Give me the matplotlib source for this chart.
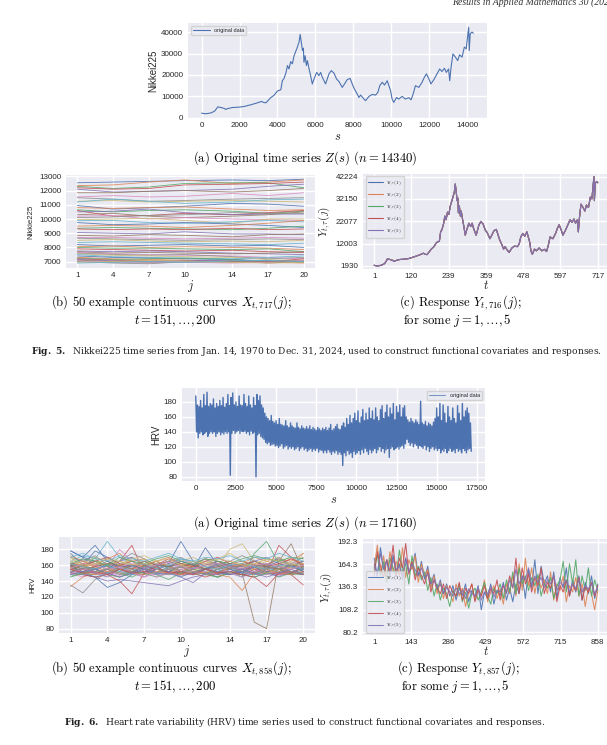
import numpy as np
import matplotlib
matplotlib.use('Agg')
import matplotlib.pyplot as plt
import seaborn as sns

# ---------------- data ----------------

# Fig 5 (a): Nikkei225 closing values, s = trading-day index
nk_s = [0, 150, 320, 490, 670, 800, 850, 1020, 1190, 1280, 1370, 1630, 2000, 2250, 2600,
	2950, 3160, 3260, 3390, 3650, 3830, 4000, 4180, 4260, 4350, 4450, 4530, 4610, 4700, 4790,
	4880, 5020, 5140, 5200, 5260, 5320, 5370, 5400, 5460, 5530, 5580, 5670, 5750, 5840, 5930,
	6070, 6190, 6280, 6370, 6540, 6720, 6840, 6980, 7120, 7250, 7420, 7540, 7680, 7830, 7900,
	8040, 8180, 8300, 8390, 8530, 8650, 8830, 9000, 9180, 9300, 9400, 9530, 9650, 9790, 9880,
	9970, 10050, 10140, 10280, 10400, 10580, 10750, 10930, 11050, 11160, 11280, 11460, 11630, 11750, 11860,
	11980, 12100, 12250, 12420, 12560, 12680, 12810, 12910, 13030, 13090, 13160, 13260, 13390, 13510, 13610,
	13740, 13860, 13960, 14030, 14090, 14120, 14170, 14260, 14339]
nk_v = [2200, 1930, 2000, 2300, 3000, 4400, 5100, 4800, 4400, 3900, 4300, 4800, 5000, 5300, 6100,
	7000, 7650, 7200, 7000, 9400, 10600, 12500, 13100, 17300, 18400, 21000, 24400, 22800, 26200, 25200,
	29000, 32200, 35300, 38900, 35300, 31400, 32500, 25900, 29000, 24400, 26700, 22800, 19700, 15800, 18100,
	21200, 19700, 21200, 18900, 15800, 20500, 22000, 20900, 18100, 16900, 14200, 15800, 17800, 18400, 16900,
	13800, 11600, 9500, 10600, 9100, 8000, 10000, 10900, 10600, 11900, 15000, 16600, 15300, 17300, 15000,
	12700, 8750, 7200, 9500, 8750, 10000, 8750, 9400, 8400, 11100, 15000, 14200, 16600, 18900, 20500,
	18400, 15800, 17800, 20500, 22800, 21600, 23100, 21200, 22800, 17300, 23600, 29800, 28300, 26700, 29400,
	28300, 33000, 32200, 37700, 42224, 31400, 39200, 40000, 39500]

# Fig 5 (b): 50 curves X_t(j), values at j = 1, 4, 7, 10, 14, 17, 20
nk_j = [1, 4, 7, 10, 14, 17, 20]
nk_curves = [
	[12550, 12600, 12650, 12700, 12750, 12700, 12800],
	[12350, 12400, 12600, 12750, 12500, 12600, 12750],
	[12300, 12150, 12250, 12500, 12550, 12550, 12200],
	[12200, 12100, 12150, 12400, 12450, 12500, 12600],
	[12100, 11900, 11950, 12000, 12100, 12300, 12450],
	[11850, 11850, 11950, 12000, 11900, 12000, 12150],
	[11550, 11650, 11550, 11600, 11800, 11650, 11850],
	[11500, 11400, 11250, 11300, 11400, 11450, 11500],
	[11250, 11300, 11200, 11250, 11300, 11250, 11200],
	[11200, 11400, 11250, 11100, 11200, 11350, 11400],
	[10950, 10700, 10800, 10900, 11100, 11050, 10900],
	[10800, 10750, 10800, 10850, 10700, 10600, 10650],
	[10650, 10500, 10600, 10650, 10550, 10400, 10550],
	[10600, 10200, 10250, 10400, 10300, 10450, 10600],
	[10500, 10550, 10700, 10450, 10300, 10350, 10350],
	[10300, 10400, 10200, 10100, 10200, 10300, 10500],
	[10200, 10250, 10000, 10100, 10000, 9950, 9900],
	[10100, 10150, 10250, 10300, 10450, 10400, 10400],
	[9950, 10000, 10050, 9900, 9700, 10000, 10000],
	[9900, 9900, 9750, 9700, 9800, 9900, 9800],
	[9750, 9600, 9650, 9750, 9650, 9550, 9400],
	[9500, 9550, 9500, 9400, 9550, 9700, 9900],
	[9350, 9400, 9350, 9300, 9250, 9350, 9500],
	[9300, 9250, 9300, 9250, 9350, 9250, 9300],
	[9050, 9000, 8950, 9100, 8950, 8950, 8900],
	[8850, 8800, 8900, 8850, 8750, 8900, 8950],
	[8700, 8700, 8650, 8600, 8650, 8700, 8650],
	[8650, 8600, 8550, 8500, 8550, 8600, 8550],
	[8500, 8550, 8450, 8400, 8450, 8400, 8500],
	[8350, 8400, 8350, 8300, 8250, 8200, 8300],
	[8200, 8100, 8150, 8200, 8100, 8150, 8000],
	[8050, 8100, 8000, 8050, 8000, 7950, 7850],
	[8000, 7950, 7950, 7900, 7850, 7900, 7700],
	[7900, 7850, 7800, 7750, 7800, 7700, 7650],
	[7750, 7700, 7750, 7700, 7600, 7550, 7500],
	[7700, 7600, 7650, 7600, 7550, 7600, 7700],
	[7650, 7550, 7500, 7450, 7400, 7300, 7200],
	[7600, 7500, 7450, 7500, 7350, 7200, 7300],
	[7550, 7450, 7400, 7350, 7300, 7150, 7050],
	[7500, 7350, 7300, 7250, 7200, 7300, 7400],
	[7400, 7300, 7250, 7200, 7150, 7050, 7000],
	[7300, 7200, 7150, 7100, 7000, 6950, 6900],
	[7250, 7150, 7200, 7250, 7150, 7000, 7100],
	[7200, 7100, 7050, 7100, 7000, 7000, 7200],
	[7150, 7050, 7000, 7050, 7100, 7050, 6950],
	[7100, 7000, 6950, 6950, 7050, 6900, 7000],
	[7050, 6950, 6900, 6950, 6900, 6950, 7100],
	[7000, 6900, 6850, 7000, 6950, 7050, 6950],
	[6950, 7000, 7100, 7050, 6950, 6900, 6950],
	[6900, 6950, 7000, 6950, 7050, 7100, 7000],
]

# Fig 5 (c) tick labels (t grid and min..max of the responses)
nk_c_xticks = [1, 120, 239, 359, 478, 597, 717]
nk_c_yticks = [1930, 12003, 22077, 32150, 42224]

# Fig 6 (a): HRV, local max / min of the signal in every block of 100 samples
hrv_block = 100
hrv_max = [188, 176, 174, 182, 172, 190, 175, 193, 174, 178,
	176, 184, 172, 178, 174, 182, 175, 186, 173, 178,
	190, 175, 186, 192, 176, 180, 174, 188, 176, 175,
	190, 178, 174, 188, 176, 172, 186, 175, 190, 182,
	188, 176, 172, 165, 160, 158, 155, 162, 154, 152,
	155, 150, 158, 150, 149, 148, 155, 148, 146, 152,
	148, 146, 145, 152, 146, 144, 148, 145, 144, 147,
	144, 148, 143, 146, 144, 142, 146, 144, 142, 145,
	143, 146, 142, 145, 150, 142, 144, 147, 150, 144,
	143, 148, 152, 146, 158, 150, 162, 152, 158, 165,
	155, 168, 152, 160, 170, 155, 165, 156, 172, 158,
	168, 156, 172, 160, 155, 170, 175, 158, 166, 176,
	160, 172, 164, 178, 156, 174, 166, 176, 160, 172,
	175, 160, 156, 153, 158, 154, 152, 156, 153, 150,
	181, 152, 150, 154, 148, 152, 150, 148, 153, 158,
	172, 160, 178, 155, 176, 165, 152, 174, 160, 155,
	172, 158, 152, 175, 165, 155, 178, 160, 168, 172,
	165, 152]
hrv_min = [140, 132, 138, 140, 136, 138, 140, 134, 138, 140,
	138, 140, 134, 138, 140, 136, 139, 137, 140, 138,
	140, 82, 138, 142, 138, 140, 142, 138, 141, 140,
	141, 138, 140, 136, 141, 138, 140, 80, 136, 138,
	134, 132, 130, 126, 124, 126, 122, 123, 124, 121,
	122, 119, 121, 124, 118, 120, 122, 117, 120, 118,
	120, 116, 118, 120, 115, 118, 120, 116, 118, 114,
	116, 118, 114, 117, 115, 118, 113, 116, 115, 112,
	115, 112, 116, 113, 110, 114, 112, 115, 110, 113,
	110, 95, 112, 108, 115, 110, 112, 106, 114, 110,
	112, 115, 110, 116, 112, 118, 114, 110, 116, 112,
	115, 118, 112, 116, 120, 114, 118, 112, 116, 118,
	106, 118, 120, 116, 118, 120, 117, 120, 122, 118,
	124, 130, 126, 122, 125, 120, 124, 122, 118, 122,
	120, 118, 122, 116, 120, 114, 118, 120, 116, 118,
	115, 118, 112, 116, 114, 118, 112, 115, 118, 114,
	116, 112, 118, 114, 116, 112, 118, 115, 112, 116,
	118, 114]

# Fig 6 (b): 50 curves X_t(j), j = 1..20
hrv_curves = [
	[178, 170, 165, 158, 160, 155, 162, 150, 158, 165, 160, 150, 155, 162, 150, 148, 156, 160, 152, 150],
	[133, 145, 150, 155, 150, 148, 152, 155, 150, 152, 148, 150, 155, 150, 152, 148, 150, 155, 150, 152],
	[158, 150, 155, 160, 152, 150, 158, 155, 160, 152, 150, 155, 148, 152, 145, 175, 190, 162, 158, 165],
	[155, 150, 160, 158, 165, 185, 150, 155, 160, 152, 158, 155, 160, 150, 155, 158, 150, 185, 170, 160],
	[150, 148, 145, 140, 142, 140, 138, 136, 134, 140, 145, 148, 150, 152, 148, 145, 150, 155, 150, 148],
	[160, 158, 155, 150, 155, 160, 152, 150, 155, 158, 150, 155, 152, 155, 150, 88, 80, 165, 187, 152],
	[155, 160, 165, 158, 180, 165, 160, 158, 165, 160, 158, 165, 162, 158, 160, 165, 160, 158, 162, 165],
	[135, 125, 142, 150, 145, 150, 155, 150, 152, 148, 155, 150, 145, 150, 155, 150, 148, 152, 150, 155],
	[155, 160, 165, 158, 150, 155, 162, 158, 152, 160, 155, 150, 158, 180, 187, 165, 158, 160, 155, 175],
	[165, 172, 168, 190, 170, 160, 165, 155, 160, 158, 162, 155, 158, 160, 152, 158, 162, 155, 160, 158],
	[175, 160, 178, 170, 162, 155, 150, 158, 162, 190, 165, 158, 150, 160, 155, 165, 160, 170, 158, 152],
	[160, 165, 158, 162, 160, 165, 168, 160, 165, 160, 158, 162, 160, 165, 158, 162, 160, 168, 165, 175],
	[160, 155, 170, 150, 158, 152, 160, 165, 155, 148, 160, 152, 158, 150, 162, 155, 148, 160, 150, 157],
	[152, 155, 150, 148, 155, 152, 150, 155, 152, 150, 148, 155, 152, 150, 148, 155, 152, 150, 148, 135],
	[155, 148, 152, 162, 158, 150, 145, 155, 160, 152, 148, 155, 160, 152, 148, 150, 158, 152, 160, 155],
	[152, 160, 155, 148, 160, 165, 155, 150, 158, 162, 155, 150, 152, 148, 155, 160, 152, 148, 155, 160],
	[150, 145, 158, 152, 147, 155, 160, 152, 148, 155, 160, 150, 145, 152, 158, 150, 155, 160, 148, 152],
	[158, 162, 150, 155, 160, 152, 158, 165, 155, 150, 158, 162, 155, 148, 152, 158, 162, 155, 150, 158],
	[165, 158, 162, 168, 160, 170, 162, 155, 165, 160, 158, 165, 160, 155, 162, 158, 165, 170, 160, 162],
	[148, 152, 145, 150, 155, 148, 152, 158, 150, 145, 152, 148, 155, 150, 145, 152, 158, 150, 148, 152],
	[160, 150, 145, 132, 138, 148, 155, 150, 148, 152, 150, 155, 150, 148, 152, 150, 155, 150, 148, 152],
	[172, 165, 160, 168, 175, 160, 158, 165, 170, 162, 160, 168, 165, 158, 162, 170, 165, 160, 168, 162],
	[145, 150, 148, 155, 150, 145, 152, 148, 142, 150, 155, 148, 145, 150, 155, 148, 152, 145, 150, 148],
	[150, 148, 145, 148, 140, 124, 150, 155, 152, 148, 150, 145, 150, 152, 148, 150, 152, 148, 150, 155],
	[160, 168, 162, 155, 165, 170, 160, 155, 162, 168, 160, 155, 165, 160, 158, 165, 170, 162, 158, 165],
	[155, 160, 165, 158, 152, 160, 155, 162, 158, 150, 155, 160, 165, 158, 152, 160, 155, 150, 158, 162],
	[150, 155, 148, 152, 158, 150, 145, 150, 155, 160, 152, 148, 150, 155, 150, 152, 148, 155, 160, 150],
	[162, 158, 155, 160, 165, 158, 152, 160, 165, 158, 155, 160, 162, 155, 160, 165, 158, 155, 160, 165],
	[168, 162, 170, 165, 160, 168, 172, 165, 160, 165, 170, 162, 168, 175, 165, 160, 168, 165, 170, 168],
	[153, 148, 155, 160, 152, 148, 155, 150, 158, 152, 148, 155, 152, 158, 150, 148, 155, 152, 148, 155],
	[158, 152, 155, 160, 155, 150, 158, 155, 152, 158, 155, 182, 160, 155, 150, 158, 152, 155, 160, 155],
	[157, 162, 158, 152, 160, 155, 160, 165, 158, 152, 160, 156, 150, 158, 162, 155, 160, 152, 158, 155],
	[146, 150, 155, 148, 145, 152, 150, 145, 150, 155, 148, 150, 145, 152, 148, 145, 150, 155, 148, 150],
	[163, 158, 165, 170, 162, 158, 165, 160, 168, 162, 158, 165, 170, 162, 160, 165, 158, 162, 168, 160],
	[151, 156, 150, 145, 155, 150, 148, 155, 152, 146, 150, 156, 152, 148, 152, 158, 150, 146, 152, 156],
	[159, 152, 158, 165, 155, 150, 160, 155, 150, 158, 162, 155, 150, 156, 160, 152, 158, 155, 150, 158],
	[149, 155, 152, 148, 150, 158, 152, 145, 150, 155, 148, 152, 158, 150, 145, 152, 155, 148, 152, 150],
	[170, 165, 172, 160, 165, 175, 168, 160, 165, 170, 162, 168, 160, 165, 172, 165, 160, 168, 162, 170],
	[170, 158, 162, 160, 165, 160, 168, 155, 148, 160, 152, 158, 162, 150, 157, 162, 150, 155, 165, 148],
	[162, 158, 155, 160, 152, 158, 162, 155, 160, 168, 165, 158, 155, 160, 162, 158, 155, 160, 158, 155],
	[178, 170, 185, 165, 158, 160, 155, 160, 158, 165, 160, 155, 162, 158, 155, 160, 158, 165, 160, 152],
	[155, 150, 148, 152, 155, 150, 148, 152, 150, 148, 152, 150, 148, 145, 128, 150, 155, 150, 148, 152],
	[162, 168, 165, 160, 170, 165, 162, 168, 172, 165, 160, 168, 165, 162, 168, 172, 168, 165, 170, 168],
	[155, 150, 152, 148, 155, 150, 152, 158, 150, 152, 148, 155, 150, 152, 148, 145, 133, 150, 152, 148],
	[148, 152, 155, 150, 145, 150, 155, 148, 150, 145, 138, 150, 148, 152, 155, 150, 145, 150, 155, 148],
	[160, 155, 158, 162, 160, 155, 165, 160, 158, 162, 160, 155, 158, 162, 165, 160, 158, 155, 160, 158],
	[156, 162, 160, 155, 158, 162, 156, 160, 164, 158, 155, 160, 162, 158, 155, 160, 162, 158, 155, 160],
	[150, 158, 152, 155, 148, 152, 158, 150, 155, 158, 152, 148, 155, 158, 152, 150, 155, 158, 152, 150],
	[165, 160, 162, 168, 165, 160, 162, 165, 168, 160, 165, 162, 168, 165, 160, 162, 168, 165, 160, 162],
	[170, 175, 168, 165, 172, 168, 165, 170, 175, 168, 165, 170, 168, 172, 165, 170, 168, 175, 170, 165],
]

# Fig 6 (c): responses Y_t(j), j = 1..5, sampled evenly over t = 1..858
hrv_resp = [
	[172, 150, 185, 158, 170, 148, 176, 152, 165, 145, 172, 155, 160, 178, 150, 168, 146, 162, 140, 152,
	 132, 145, 128, 140, 125, 138, 120, 135, 126, 140, 118, 132, 124, 138, 108, 130, 122, 140, 115, 132,
	 126, 142, 120, 135, 118, 140, 128, 150, 122, 158, 135, 170, 128, 162, 140, 150, 130, 155, 122, 148,
	 135, 160, 125, 145, 130, 150, 120, 142, 128, 150, 122, 140],
	[160, 188, 152, 175, 145, 180, 155, 168, 150, 185, 148, 170, 158, 175, 142, 165, 150, 158, 135, 150,
	 128, 142, 122, 138, 130, 118, 140, 125, 135, 112, 130, 140, 120, 135, 125, 145, 118, 130, 138, 122,
	 134, 115, 140, 128, 150, 125, 165, 132, 172, 138, 160, 128, 150, 135, 145, 128, 155, 120, 140, 132,
	 150, 118, 138, 130, 148, 125, 140, 112, 135, 128, 108, 132],
	[158, 176, 150, 168, 142, 172, 160, 150, 182, 155, 165, 140, 175, 150, 162, 145, 155, 132, 148, 125,
	 140, 120, 135, 128, 112, 132, 125, 140, 118, 130, 110, 128, 135, 120, 130, 142, 125, 115, 135, 128,
	 140, 122, 145, 130, 155, 128, 160, 140, 150, 132, 148, 138, 152, 125, 140, 135, 148, 122, 138, 145,
	 168, 130, 165, 140, 170, 125, 150, 132, 160, 125, 145, 132],
	[150, 180, 162, 148, 170, 155, 188, 150, 172, 160, 190, 152, 168, 145, 160, 150, 140, 155, 130, 145,
	 135, 128, 140, 122, 138, 130, 125, 142, 120, 135, 128, 140, 118, 132, 125, 138, 122, 134, 128, 145,
	 120, 138, 130, 150, 135, 172, 128, 160, 140, 152, 130, 148, 138, 160, 128, 142, 135, 150, 118, 138,
	 130, 145, 125, 140, 132, 148, 120, 136, 130, 142, 125, 138],
	[165, 150, 178, 158, 168, 152, 170, 158, 162, 150, 172, 155, 165, 158, 150, 160, 148, 152, 140, 145,
	 135, 140, 128, 136, 130, 125, 135, 128, 132, 122, 134, 128, 125, 136, 120, 130, 128, 138, 124, 132,
	 130, 140, 128, 145, 135, 158, 140, 150, 145, 160, 138, 150, 142, 148, 135, 145, 140, 150, 132, 142,
	 138, 145, 130, 140, 135, 145, 130, 138, 134, 140, 128, 136],
]
hrv_c_xticks = [1, 143, 286, 429, 572, 715, 858]
hrv_c_yticks = [80.2, 108.2, 136.3, 164.3, 192.3]

# ---------------- style ----------------
sns.set_theme(style='darkgrid')
plt.rcParams['font.family'] = ['Liberation Sans', 'DejaVu Sans']
plt.rcParams['mathtext.fontset'] = 'cm'
plt.rcParams['xtick.labelsize'] = 5.8
plt.rcParams['ytick.labelsize'] = 5.8
plt.rcParams['xtick.major.size'] = 0
plt.rcParams['ytick.major.size'] = 0
plt.rcParams['xtick.major.pad'] = 3
plt.rcParams['ytick.major.pad'] = 3.5
plt.rcParams['axes.linewidth'] = 0

W, H = 607, 745
deep = sns.color_palette('deep')


def box(l, t, r, b):
	# pixel box on the page -> figure fraction
	return [l / W, 1 - b / H, (r - l) / W, (b - t) / H]


def caption(x, y, s, size=9.1):
	fig.text(x / W, 1 - y / H, s, ha='center', va='center', fontsize=size,
		family='cmr10', color='black')


def fig_caption(x, y, s):
	fig.text(x / W, 1 - y / H, s, ha='center', va='center', fontsize=6.6,
		family='DejaVu Serif', math_fontfamily='dejavuserif', color='#222222')


fig = plt.figure(figsize=(W / 100, H / 100), dpi=100)

# ===== Fig 5 =====
ax = fig.add_axes(box(188, 23, 487, 118))
ax.plot(nk_s, nk_v, color=deep[0], lw=0.8, label='original data')
ax.set_xticks(range(0, 14001, 2000))
ax.set_yticks(range(0, 40001, 10000))
ax.set_xlabel('$s$', fontsize=9, labelpad=1)
ax.set_ylabel('Nikkei225', fontsize=7, labelpad=2)
ax.legend(loc='upper left', fontsize=4, handlelength=3, frameon=True)

ax = fig.add_axes(box(66, 175, 315, 268))
for i, c in enumerate(nk_curves):
	ax.plot(nk_j, c, color=deep[i % 10], lw=0.6, alpha=0.9)
ax.set_xticks(nk_j)
ax.set_yticks(range(7000, 13001, 1000))
ax.set_xlabel('$j$', fontsize=9, labelpad=-1)
ax.set_ylabel('Nikkie225', fontsize=5.6, labelpad=3)

ax = fig.add_axes(box(363, 174, 609, 269))
t_nk = np.array(nk_s) / nk_s[-1] * 716 + 1
for k in range(5):
	ax.plot(t_nk, nk_v, color=deep[k], lw=0.8, label=r'$Y_{t,\tau}(%d)$' % (k + 1))
ax.set_xticks(nk_c_xticks)
ax.set_xticklabels([str(v) for v in nk_c_xticks])
ax.set_yticks(nk_c_yticks)
ax.set_yticklabels([str(v) for v in nk_c_yticks])
span = nk_c_yticks[-1] - nk_c_yticks[0]
ax.set_ylim(nk_c_yticks[0] - 0.035 * span, nk_c_yticks[-1] + 0.03 * span)
ax.set_xlabel('$t$', fontsize=9, labelpad=-1)
ax.set_ylabel(r'$Y_{t,\tau}(j)$', fontsize=8, labelpad=2)
ax.legend(loc='upper left', fontsize=3.6, handlelength=3, frameon=True)

caption(305, 158, r'(a) Original time series $Z(s)$ $(n=14340)$')
caption(172, 303, r'(b) 50 example continuous curves $X_{t,717}(j)$;')
caption(175, 320.5, r'$t=151,\ldots,200$')
caption(460, 303, r'(c) Response $Y_{t,716}(j)$;')
caption(457, 320.5, r'for some $j=1,\ldots,5$')
fig_caption(316, 352, r'$\mathbf{Fig.\ 5.}$  Nikkei225 time series from Jan. 14, 1970 to Dec. 31, 2024, '
	'used to construct functional covariates and responses.')

# ===== Fig 6 =====
ax = fig.add_axes(box(182, 388, 485, 481))
xs = np.arange(len(hrv_max)) * hrv_block
# each block drawn as a stroke from its max down to its min
zig_x = np.column_stack([xs, xs + hrv_block / 2]).ravel()
zig_y = np.column_stack([hrv_max, hrv_min]).ravel()
ax.plot(zig_x, zig_y, color=deep[0], lw=1.0)
ax.plot([], [], color=deep[0], lw=0.8, alpha=0.7, label='original data')
ax.set_xticks(range(0, 17501, 2500))
ax.set_yticks(range(80, 181, 20))
ax.set_xlabel('$s$', fontsize=9, labelpad=1)
ax.set_ylabel('HRV', fontsize=7, labelpad=2)
ax.legend(loc='upper right', fontsize=4, handlelength=3, frameon=True)

ax = fig.add_axes(box(59, 537, 315, 633))
j20 = list(range(1, 21))
for i, c in enumerate(hrv_curves):
	ax.plot(j20, c, color=deep[i % 10], lw=0.6, alpha=0.85)
ax.set_xticks(nk_j)
ax.set_yticks(range(80, 181, 20))
ax.set_xlabel('$j$', fontsize=9, labelpad=-1)
ax.set_ylabel('HRV', fontsize=5.6, labelpad=3)

ax = fig.add_axes(box(363, 539, 609, 635))
for k, y in enumerate(hrv_resp):
	t = np.linspace(1, 858, len(y))
	ax.plot(t, y, color=deep[k], lw=0.75, alpha=0.9, label=r'$Y_{t,\tau}(%d)$' % (k + 1))
ax.set_xticks(hrv_c_xticks)
ax.set_xticklabels([str(v) for v in hrv_c_xticks])
ax.set_yticks(hrv_c_yticks)
ax.set_yticklabels(['%.1f' % v for v in hrv_c_yticks])
span = hrv_c_yticks[-1] - hrv_c_yticks[0]
ax.set_ylim(hrv_c_yticks[0] - 0.03 * span, hrv_c_yticks[-1] + 0.03 * span)
ax.set_xlabel('$t$', fontsize=9, labelpad=-1)
ax.set_ylabel(r'$Y_{t,\tau}(j)$', fontsize=8, labelpad=2)
ax.legend(loc='lower left', fontsize=3.6, handlelength=3, frameon=True)

caption(305, 523, r'(a) Original time series $Z(s)$ $(n=17160)$')
caption(172, 669, r'(b) 50 example continuous curves $X_{t,858}(j)$;')
caption(175, 686.5, r'$t=151,\ldots,200$')
caption(458, 669, r'(c) Response $Y_{t,857}(j)$;')
caption(455, 686.5, r'for some $j=1,\ldots,5$')
fig_caption(305, 722, r'$\mathbf{Fig.\ 6.}$  Heart rate variability (HRV) time series used to construct '
	'functional covariates and responses.')

# running head, cut by the top of the page
fig.text(452 / W, 1 - 5 / H, 'Results in Applied Mathematics 30 (2026)', ha='left', va='baseline',
	fontsize=7, family='Liberation Serif', style='italic', color='#333333')

fig.savefig('out.png', dpi=100)
